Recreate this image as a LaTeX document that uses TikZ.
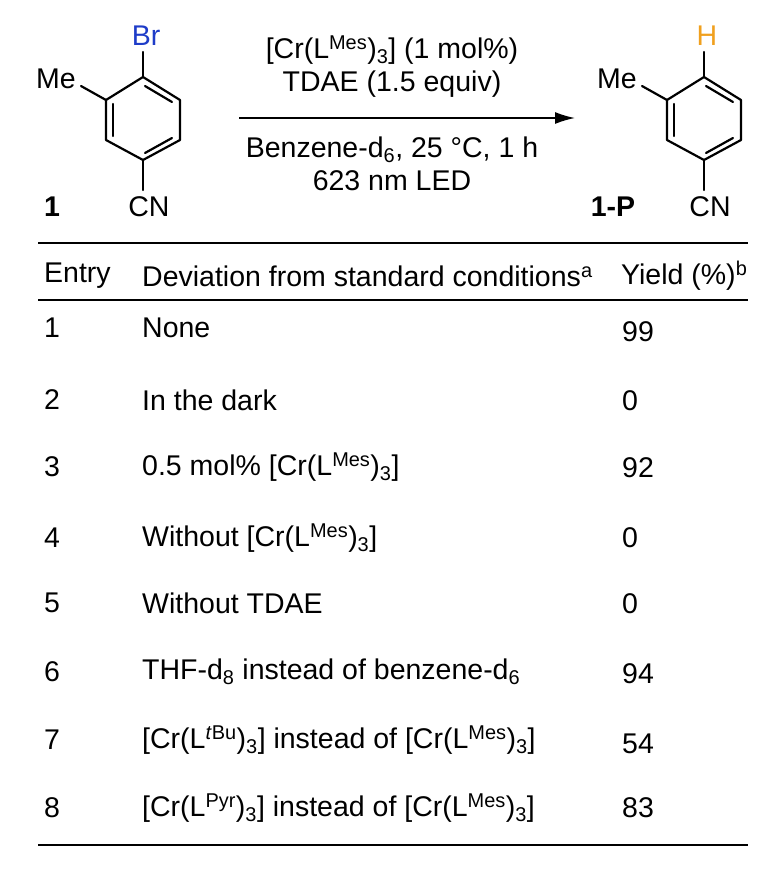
\documentclass[tikz,border=0pt]{standalone}
\usepackage{fontspec}
\setmainfont{Liberation Sans}
\usetikzlibrary{arrows.meta}
\definecolor{brblue}{RGB}{30,60,200}
\definecolor{horange}{RGB}{240,160,30}
\begin{document}
\begin{tikzpicture}[x=1pt,y=-1pt,
  txt/.style={inner sep=0pt,font=\fontsize{28.5}{32}\selectfont},
  bond/.style={line width=2.2pt,line cap=round,line join=round},
  rule/.style={line width=2.2pt},
  lft/.style={txt,anchor=west}]
\useasboundingbox (0,0) rectangle (767,873);
\foreach \dx/\sub/\col/\lab in {0/Br/brblue/1, 561/H/horange/1-P}{
  \begin{scope}[xshift=\dx]
  \coordinate (t) at (143,77); \coordinate (ur) at (180,100); \coordinate (lr) at (180,140);
  \coordinate (b) at (143,160); \coordinate (ll) at (106,140); \coordinate (ul) at (106,100);
  \draw[bond] (t)--(ur)--(lr)--(b)--(ll)--(ul)--cycle;
  \draw[bond] (113,104)--(113,136);
  \draw[bond] (145,86)--(172,102);
  \draw[bond] (172,138)--(145,153);
  \draw[bond] (ul)--(81,86);
  \draw[bond] (t)--(143,52);
  \draw[bond] (b)--(143,190);
  \node[txt,text=\col] (s\dx) at (146,36) {\sub};
  \node[txt] (me\dx) at (56,79) {Me};
  \node[txt] (cn\dx) at (149,207) {CN};
  \node[txt,font=\fontsize{28.5}{32}\selectfont\bfseries] (l\dx) at (52,207) {\lab};
  \end{scope}}
\coordinate (a1) at (239,118); \coordinate (a2) at (575,118);
\draw[line width=1.6pt,-{Latex[length=20pt,width=12pt]}] (a1)--(a2);
\node[txt] (c1) at (392,50) {[Cr(L\textsuperscript{Mes})\textsubscript{3}] (1 mol\%)};
\node[txt] (c2) at (392,84) {TDAE (1.5 equiv)};
\node[txt] (c3) at (392,150) {Benzene-d\textsubscript{6}, 25 °C, 1 h};
\node[txt] (c4) at (392,181) {623 nm LED};
\draw[rule] (38,243)--(748,243);
\draw[rule] (38,300)--(748,300);
\draw[rule] (38,845)--(748,845);
\node[lft] (h1) at (44,276) {Entry};
\node[lft] (h2) at (142,276) {Deviation from standard conditions\textsuperscript{a}};
\node[lft] (h3) at (621,276) {Yield (\%)\textsuperscript{b}};
\foreach \n/\y/\d/\yy/\v in {
 1/328/None/332/99,
 2/400/In the dark/401/0,
 3/467/0.5 mol\% [Cr(L\textsuperscript{Mes})\textsubscript{3}]/468/92,
 4/538/Without [Cr(L\textsuperscript{Mes})\textsubscript{3}]/538/0,
 5/603/Without TDAE/604/0,
 6/672/THF-d\textsubscript{8} instead of benzene-d\textsubscript{6}/674/94,
 7/740/{[Cr(L\textsuperscript{\textit{t}Bu})\textsubscript{3}] instead of [Cr(L\textsuperscript{Mes})\textsubscript{3}]}/744/54,
 8/808/{[Cr(L\textsuperscript{Pyr})\textsubscript{3}] instead of [Cr(L\textsuperscript{Mes})\textsubscript{3}]}/808/83}{
 \node[lft] (e\n) at (44,\y) {\n};
 \node[lft] (d\n) at (142,\y) {\d};
 \node[lft] (y\n) at (622,\yy) {\v};}
\end{tikzpicture}
\end{document}
